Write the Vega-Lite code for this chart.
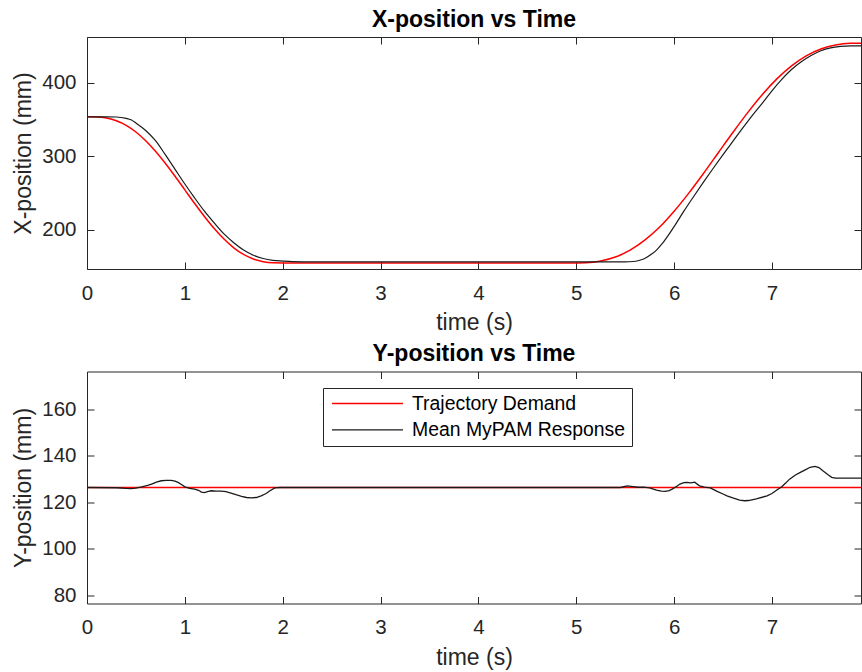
{
  "$schema": "https://vega.github.io/schema/vega-lite/v6.json",
  "background": "white",
  "padding": {"left": 12, "top": 8, "right": 0, "bottom": 0},
  "spacing": 7.5,
  "config": {
    "font": "Liberation Sans",
    "view": {"stroke": "#262626", "strokeWidth": 1},
    "axis": {
      "grid": false,
      "domain": false,
      "ticks": true,
      "tickSize": -7,
      "tickColor": "#262626",
      "tickWidth": 1,
      "labelFlush": false,
      "labelFont": "Liberation Sans",
      "labelFontSize": 20.5,
      "labelColor": "#262626",
      "titleFont": "Liberation Sans",
      "titleFontSize": 23,
      "titleFontWeight": "normal",
      "titleColor": "#262626"
    },
    "axisBottom": {"labelPadding": 21, "titlePadding": 8},
    "axisLeft": {"labelPadding": 18, "titlePadding": 6},
    "title": {
      "font": "Liberation Sans",
      "fontSize": 23,
      "fontWeight": "bold",
      "color": "#000000",
      "anchor": "middle",
      "baseline": "alphabetic",
      "offset": 5
    }
  },
  "datasets": {
    "x_demand": [
      {"time": 0.0, "mm": 353.5, "series": "Trajectory Demand"},
      {"time": 0.1, "mm": 353.3, "series": "Trajectory Demand"},
      {"time": 0.2, "mm": 351.8, "series": "Trajectory Demand"},
      {"time": 0.3, "mm": 348.2, "series": "Trajectory Demand"},
      {"time": 0.4, "mm": 342.0, "series": "Trajectory Demand"},
      {"time": 0.5, "mm": 332.9, "series": "Trajectory Demand"},
      {"time": 0.6, "mm": 321.0, "series": "Trajectory Demand"},
      {"time": 0.7, "mm": 306.7, "series": "Trajectory Demand"},
      {"time": 0.8, "mm": 290.3, "series": "Trajectory Demand"},
      {"time": 0.9, "mm": 272.5, "series": "Trajectory Demand"},
      {"time": 1.0, "mm": 254.0, "series": "Trajectory Demand"},
      {"time": 1.1, "mm": 235.5, "series": "Trajectory Demand"},
      {"time": 1.2, "mm": 217.7, "series": "Trajectory Demand"},
      {"time": 1.3, "mm": 201.3, "series": "Trajectory Demand"},
      {"time": 1.4, "mm": 187.0, "series": "Trajectory Demand"},
      {"time": 1.5, "mm": 175.1, "series": "Trajectory Demand"},
      {"time": 1.6, "mm": 166.0, "series": "Trajectory Demand"},
      {"time": 1.7, "mm": 159.8, "series": "Trajectory Demand"},
      {"time": 1.8, "mm": 156.2, "series": "Trajectory Demand"},
      {"time": 1.9, "mm": 154.7, "series": "Trajectory Demand"},
      {"time": 2.0, "mm": 154.5, "series": "Trajectory Demand"},
      {"time": 3.0, "mm": 154.5, "series": "Trajectory Demand"},
      {"time": 4.0, "mm": 154.5, "series": "Trajectory Demand"},
      {"time": 4.95, "mm": 154.5, "series": "Trajectory Demand"},
      {"time": 5.1, "mm": 154.8, "series": "Trajectory Demand"},
      {"time": 5.25, "mm": 157.1, "series": "Trajectory Demand"},
      {"time": 5.4, "mm": 162.5, "series": "Trajectory Demand"},
      {"time": 5.55, "mm": 171.8, "series": "Trajectory Demand"},
      {"time": 5.7, "mm": 185.5, "series": "Trajectory Demand"},
      {"time": 5.85, "mm": 203.0, "series": "Trajectory Demand"},
      {"time": 6.0, "mm": 224.9, "series": "Trajectory Demand"},
      {"time": 6.15, "mm": 249.6, "series": "Trajectory Demand"},
      {"time": 6.3, "mm": 276.4, "series": "Trajectory Demand"},
      {"time": 6.45, "mm": 304.3, "series": "Trajectory Demand"},
      {"time": 6.6, "mm": 332.1, "series": "Trajectory Demand"},
      {"time": 6.75, "mm": 358.9, "series": "Trajectory Demand"},
      {"time": 6.9, "mm": 383.6, "series": "Trajectory Demand"},
      {"time": 7.05, "mm": 405.2, "series": "Trajectory Demand"},
      {"time": 7.2, "mm": 423.0, "series": "Trajectory Demand"},
      {"time": 7.35, "mm": 436.7, "series": "Trajectory Demand"},
      {"time": 7.5, "mm": 446.0, "series": "Trajectory Demand"},
      {"time": 7.65, "mm": 451.4, "series": "Trajectory Demand"},
      {"time": 7.8, "mm": 453.7, "series": "Trajectory Demand"},
      {"time": 7.95, "mm": 454.0, "series": "Trajectory Demand"}
    ],
    "x_response": [
      {"time": 0.0, "mm": 353.5, "series": "Mean MyPAM Response"},
      {"time": 0.2, "mm": 353.5, "series": "Mean MyPAM Response"},
      {"time": 0.3, "mm": 353.3, "series": "Mean MyPAM Response"},
      {"time": 0.4, "mm": 351.5, "series": "Mean MyPAM Response"},
      {"time": 0.45, "mm": 349.5, "series": "Mean MyPAM Response"},
      {"time": 0.5, "mm": 345.0, "series": "Mean MyPAM Response"},
      {"time": 0.6, "mm": 335.0, "series": "Mean MyPAM Response"},
      {"time": 0.7, "mm": 321.0, "series": "Mean MyPAM Response"},
      {"time": 0.8, "mm": 302.0, "series": "Mean MyPAM Response"},
      {"time": 0.9, "mm": 282.0, "series": "Mean MyPAM Response"},
      {"time": 1.0, "mm": 262.0, "series": "Mean MyPAM Response"},
      {"time": 1.1, "mm": 243.0, "series": "Mean MyPAM Response"},
      {"time": 1.2, "mm": 225.0, "series": "Mean MyPAM Response"},
      {"time": 1.3, "mm": 209.0, "series": "Mean MyPAM Response"},
      {"time": 1.4, "mm": 194.0, "series": "Mean MyPAM Response"},
      {"time": 1.5, "mm": 182.0, "series": "Mean MyPAM Response"},
      {"time": 1.6, "mm": 172.0, "series": "Mean MyPAM Response"},
      {"time": 1.7, "mm": 165.0, "series": "Mean MyPAM Response"},
      {"time": 1.8, "mm": 160.5, "series": "Mean MyPAM Response"},
      {"time": 1.9, "mm": 158.0, "series": "Mean MyPAM Response"},
      {"time": 2.0, "mm": 157.0, "series": "Mean MyPAM Response"},
      {"time": 2.1, "mm": 156.3, "series": "Mean MyPAM Response"},
      {"time": 2.3, "mm": 156.0, "series": "Mean MyPAM Response"},
      {"time": 3.5, "mm": 156.0, "series": "Mean MyPAM Response"},
      {"time": 5.5, "mm": 156.0, "series": "Mean MyPAM Response"},
      {"time": 5.58, "mm": 156.4, "series": "Mean MyPAM Response"},
      {"time": 5.64, "mm": 157.8, "series": "Mean MyPAM Response"},
      {"time": 5.7, "mm": 160.5, "series": "Mean MyPAM Response"},
      {"time": 5.76, "mm": 165.5, "series": "Mean MyPAM Response"},
      {"time": 5.82, "mm": 172.0, "series": "Mean MyPAM Response"},
      {"time": 5.88, "mm": 181.0, "series": "Mean MyPAM Response"},
      {"time": 5.94, "mm": 192.0, "series": "Mean MyPAM Response"},
      {"time": 6.0, "mm": 204.0, "series": "Mean MyPAM Response"},
      {"time": 6.1, "mm": 225.0, "series": "Mean MyPAM Response"},
      {"time": 6.2, "mm": 245.0, "series": "Mean MyPAM Response"},
      {"time": 6.3, "mm": 264.5, "series": "Mean MyPAM Response"},
      {"time": 6.4, "mm": 283.5, "series": "Mean MyPAM Response"},
      {"time": 6.5, "mm": 302.0, "series": "Mean MyPAM Response"},
      {"time": 6.6, "mm": 320.0, "series": "Mean MyPAM Response"},
      {"time": 6.7, "mm": 338.0, "series": "Mean MyPAM Response"},
      {"time": 6.8, "mm": 355.5, "series": "Mean MyPAM Response"},
      {"time": 6.9, "mm": 372.0, "series": "Mean MyPAM Response"},
      {"time": 7.0, "mm": 389.0, "series": "Mean MyPAM Response"},
      {"time": 7.1, "mm": 404.5, "series": "Mean MyPAM Response"},
      {"time": 7.2, "mm": 418.0, "series": "Mean MyPAM Response"},
      {"time": 7.3, "mm": 428.5, "series": "Mean MyPAM Response"},
      {"time": 7.4, "mm": 437.0, "series": "Mean MyPAM Response"},
      {"time": 7.5, "mm": 443.5, "series": "Mean MyPAM Response"},
      {"time": 7.6, "mm": 447.5, "series": "Mean MyPAM Response"},
      {"time": 7.7, "mm": 449.5, "series": "Mean MyPAM Response"},
      {"time": 7.8, "mm": 450.3, "series": "Mean MyPAM Response"},
      {"time": 7.95, "mm": 450.3, "series": "Mean MyPAM Response"}
    ],
    "y_demand": [
      {"time": 0.0, "mm": 126.4, "series": "Trajectory Demand"},
      {"time": 2.0, "mm": 126.4, "series": "Trajectory Demand"},
      {"time": 4.0, "mm": 126.4, "series": "Trajectory Demand"},
      {"time": 6.0, "mm": 126.4, "series": "Trajectory Demand"},
      {"time": 7.95, "mm": 126.4, "series": "Trajectory Demand"}
    ],
    "y_response": [
      {"time": 0.0, "mm": 126.4, "series": "Mean MyPAM Response"},
      {"time": 0.3, "mm": 126.3, "series": "Mean MyPAM Response"},
      {"time": 0.4, "mm": 126.0, "series": "Mean MyPAM Response"},
      {"time": 0.45, "mm": 125.9, "series": "Mean MyPAM Response"},
      {"time": 0.5, "mm": 126.1, "series": "Mean MyPAM Response"},
      {"time": 0.56, "mm": 126.7, "series": "Mean MyPAM Response"},
      {"time": 0.62, "mm": 127.3, "series": "Mean MyPAM Response"},
      {"time": 0.66, "mm": 127.9, "series": "Mean MyPAM Response"},
      {"time": 0.71, "mm": 128.7, "series": "Mean MyPAM Response"},
      {"time": 0.76, "mm": 129.3, "series": "Mean MyPAM Response"},
      {"time": 0.81, "mm": 129.5, "series": "Mean MyPAM Response"},
      {"time": 0.86, "mm": 129.5, "series": "Mean MyPAM Response"},
      {"time": 0.9, "mm": 129.1, "series": "Mean MyPAM Response"},
      {"time": 0.93, "mm": 128.6, "series": "Mean MyPAM Response"},
      {"time": 0.97, "mm": 127.6, "series": "Mean MyPAM Response"},
      {"time": 1.0, "mm": 126.7, "series": "Mean MyPAM Response"},
      {"time": 1.05, "mm": 126.0, "series": "Mean MyPAM Response"},
      {"time": 1.1, "mm": 125.7, "series": "Mean MyPAM Response"},
      {"time": 1.14, "mm": 125.2, "series": "Mean MyPAM Response"},
      {"time": 1.17, "mm": 124.4, "series": "Mean MyPAM Response"},
      {"time": 1.2, "mm": 124.2, "series": "Mean MyPAM Response"},
      {"time": 1.24, "mm": 124.7, "series": "Mean MyPAM Response"},
      {"time": 1.27, "mm": 125.0, "series": "Mean MyPAM Response"},
      {"time": 1.32, "mm": 124.8, "series": "Mean MyPAM Response"},
      {"time": 1.37, "mm": 124.8, "series": "Mean MyPAM Response"},
      {"time": 1.42, "mm": 124.6, "series": "Mean MyPAM Response"},
      {"time": 1.48, "mm": 123.9, "series": "Mean MyPAM Response"},
      {"time": 1.53, "mm": 123.2, "series": "Mean MyPAM Response"},
      {"time": 1.58, "mm": 122.6, "series": "Mean MyPAM Response"},
      {"time": 1.63, "mm": 122.1, "series": "Mean MyPAM Response"},
      {"time": 1.68, "mm": 121.9, "series": "Mean MyPAM Response"},
      {"time": 1.73, "mm": 122.1, "series": "Mean MyPAM Response"},
      {"time": 1.78, "mm": 122.8, "series": "Mean MyPAM Response"},
      {"time": 1.83, "mm": 123.8, "series": "Mean MyPAM Response"},
      {"time": 1.87, "mm": 125.0, "series": "Mean MyPAM Response"},
      {"time": 1.92, "mm": 126.2, "series": "Mean MyPAM Response"},
      {"time": 1.97, "mm": 126.4, "series": "Mean MyPAM Response"},
      {"time": 3.5, "mm": 126.4, "series": "Mean MyPAM Response"},
      {"time": 5.45, "mm": 126.4, "series": "Mean MyPAM Response"},
      {"time": 5.52, "mm": 127.1, "series": "Mean MyPAM Response"},
      {"time": 5.58, "mm": 126.8, "series": "Mean MyPAM Response"},
      {"time": 5.64, "mm": 126.5, "series": "Mean MyPAM Response"},
      {"time": 5.69, "mm": 126.6, "series": "Mean MyPAM Response"},
      {"time": 5.75, "mm": 126.2, "series": "Mean MyPAM Response"},
      {"time": 5.82, "mm": 125.3, "series": "Mean MyPAM Response"},
      {"time": 5.87, "mm": 124.8, "series": "Mean MyPAM Response"},
      {"time": 5.91, "mm": 124.7, "series": "Mean MyPAM Response"},
      {"time": 5.95, "mm": 125.1, "series": "Mean MyPAM Response"},
      {"time": 5.98, "mm": 125.7, "series": "Mean MyPAM Response"},
      {"time": 6.02, "mm": 126.7, "series": "Mean MyPAM Response"},
      {"time": 6.06, "mm": 127.9, "series": "Mean MyPAM Response"},
      {"time": 6.1, "mm": 128.5, "series": "Mean MyPAM Response"},
      {"time": 6.13, "mm": 128.6, "series": "Mean MyPAM Response"},
      {"time": 6.17, "mm": 128.4, "series": "Mean MyPAM Response"},
      {"time": 6.21, "mm": 128.7, "series": "Mean MyPAM Response"},
      {"time": 6.26, "mm": 127.1, "series": "Mean MyPAM Response"},
      {"time": 6.31, "mm": 126.6, "series": "Mean MyPAM Response"},
      {"time": 6.37, "mm": 126.2, "series": "Mean MyPAM Response"},
      {"time": 6.44, "mm": 124.7, "series": "Mean MyPAM Response"},
      {"time": 6.5, "mm": 123.6, "series": "Mean MyPAM Response"},
      {"time": 6.54, "mm": 122.8, "series": "Mean MyPAM Response"},
      {"time": 6.6, "mm": 121.9, "series": "Mean MyPAM Response"},
      {"time": 6.67, "mm": 121.0, "series": "Mean MyPAM Response"},
      {"time": 6.72, "mm": 120.7, "series": "Mean MyPAM Response"},
      {"time": 6.76, "mm": 120.8, "series": "Mean MyPAM Response"},
      {"time": 6.84, "mm": 121.5, "series": "Mean MyPAM Response"},
      {"time": 6.95, "mm": 122.8, "series": "Mean MyPAM Response"},
      {"time": 7.0, "mm": 123.8, "series": "Mean MyPAM Response"},
      {"time": 7.05, "mm": 125.3, "series": "Mean MyPAM Response"},
      {"time": 7.1, "mm": 126.7, "series": "Mean MyPAM Response"},
      {"time": 7.14, "mm": 128.3, "series": "Mean MyPAM Response"},
      {"time": 7.18, "mm": 130.0, "series": "Mean MyPAM Response"},
      {"time": 7.24, "mm": 131.8, "series": "Mean MyPAM Response"},
      {"time": 7.29, "mm": 132.9, "series": "Mean MyPAM Response"},
      {"time": 7.34, "mm": 134.0, "series": "Mean MyPAM Response"},
      {"time": 7.39, "mm": 135.1, "series": "Mean MyPAM Response"},
      {"time": 7.44, "mm": 135.5, "series": "Mean MyPAM Response"},
      {"time": 7.48, "mm": 135.0, "series": "Mean MyPAM Response"},
      {"time": 7.52, "mm": 133.6, "series": "Mean MyPAM Response"},
      {"time": 7.57, "mm": 132.0, "series": "Mean MyPAM Response"},
      {"time": 7.61, "mm": 130.8, "series": "Mean MyPAM Response"},
      {"time": 7.65, "mm": 130.4, "series": "Mean MyPAM Response"},
      {"time": 7.95, "mm": 130.4, "series": "Mean MyPAM Response"}
    ]
  },
  "resolve": {
    "scale": {"x": "independent", "y": "independent", "color": "independent"},
    "legend": {"color": "independent"}
  },
  "vconcat": [
    {
      "width": 774,
      "height": 232,
      "title": {"text": "X-position vs Time"},
      "resolve": {"axis": {"x": "independent", "y": "independent"}},
      "layer": [
        {
          "data": {"name": "x_demand"},
          "mark": {"type": "line", "stroke": "#ff0000", "strokeWidth": 1.5, "clip": true, "interpolate": "monotone"},
          "encoding": {
            "x": {
              "field": "time", "type": "quantitative",
              "scale": {"domain": [0, 7.91], "nice": false, "zero": false},
              "axis": {"values": [0, 1, 2, 3, 4, 5, 6, 7], "title": "time (s)"}
            },
            "y": {
              "field": "mm", "type": "quantitative",
              "scale": {"domain": [146.2, 462.3], "nice": false, "zero": false},
              "axis": {"values": [200, 300, 400], "title": "X-position (mm)"}
            }
          }
        },
        {
          "data": {"name": "x_response"},
          "mark": {"type": "line", "stroke": "#1a1a1a", "strokeWidth": 1.2, "clip": true, "interpolate": "monotone"},
          "encoding": {
            "x": {
              "field": "time", "type": "quantitative",
              "axis": {"orient": "top", "values": [0, 1, 2, 3, 4, 5, 6, 7], "labels": false, "title": null}
            },
            "y": {
              "field": "mm", "type": "quantitative",
              "axis": {"orient": "right", "values": [200, 300, 400], "labels": false, "title": null}
            }
          }
        }
      ]
    },
    {
      "width": 774,
      "height": 232,
      "title": {"text": "Y-position vs Time"},
      "resolve": {"axis": {"x": "independent", "y": "independent"}},
      "layer": [
        {
          "data": {"name": "y_demand"},
          "mark": {"type": "line", "strokeWidth": 1.3, "clip": true},
          "encoding": {
            "x": {
              "field": "time", "type": "quantitative",
              "scale": {"domain": [0, 7.91], "nice": false, "zero": false},
              "axis": {"values": [0, 1, 2, 3, 4, 5, 6, 7], "title": "time (s)"}
            },
            "y": {
              "field": "mm", "type": "quantitative",
              "scale": {"domain": [76.5, 176.3], "nice": false, "zero": false},
              "axis": {"values": [80, 100, 120, 140, 160], "title": "Y-position (mm)"}
            },
            "color": {
              "field": "series", "type": "nominal",
              "scale": {"domain": ["Trajectory Demand", "Mean MyPAM Response"], "range": ["#ff0000", "#1a1a1a"]},
              "legend": {
                "orient": "none",
                "legendX": 236,
                "legendY": 16.5,
                "title": null,
                "symbolType": "stroke",
                "symbolSize": 5041,
                "symbolStrokeWidth": 1.3,
                "clipHeight": 19,
                "symbolOffset": 2,
                "labelFont": "Liberation Sans",
                "labelFontSize": 19.4,
                "labelColor": "#000000",
                "labelLimit": 400,
                "labelOffset": 8,
                "padding": 6,
                "rowPadding": 6.4,
                "strokeColor": "#262626",
                "fillColor": "#ffffff"
              }
            }
          }
        },
        {
          "data": {"name": "y_response"},
          "mark": {"type": "line", "strokeWidth": 1.3, "clip": true},
          "encoding": {
            "x": {
              "field": "time", "type": "quantitative",
              "axis": {"orient": "top", "values": [0, 1, 2, 3, 4, 5, 6, 7], "labels": false, "title": null}
            },
            "y": {
              "field": "mm", "type": "quantitative",
              "axis": {"orient": "right", "values": [80, 100, 120, 140, 160], "labels": false, "title": null}
            },
            "color": {"field": "series", "type": "nominal"}
          }
        }
      ]
    }
  ]
}
